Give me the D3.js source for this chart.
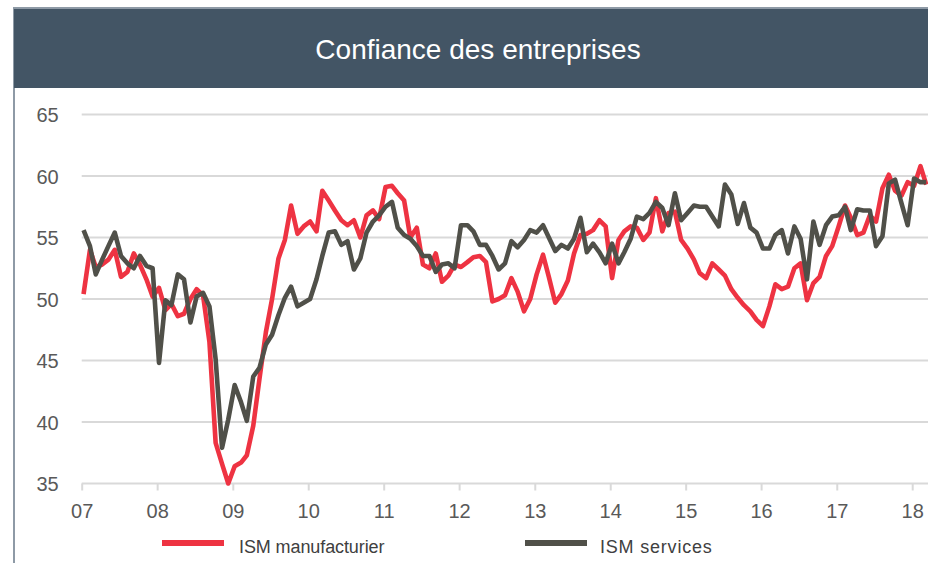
<!DOCTYPE html>
<html>
<head>
<meta charset="utf-8">
<script src="https://cdn.jsdelivr.net/npm/d3@7"></script>
<style>
  body { margin: 0; background: #fff; }
  svg { display: block; font-family: "Liberation Sans", Arial, sans-serif; }
</style>
</head>
<body>
<svg id="chart"></svg>
<script>
// monthly values, Jan 2007 -> Mar 2018
var startYear = 2007;
var yearLabels = ["07", "08", "09", "10", "11", "12", "13", "14", "15", "16", "17", "18"];
var yTicks = [35, 40, 45, 50, 55, 60, 65];

var ismManufacturier = [
  50.4, 54.0, 52.6, 52.8, 53.2, 54.0, 51.8, 52.2, 53.7, 52.8, 51.6, 50.2,
  50.9, 49.1, 49.6, 48.6, 48.8, 50.0, 50.8, 50.3, 46.5, 38.3, 36.6, 35.0,
  36.4, 36.7, 37.3, 39.7, 43.5, 47.3, 50.0, 53.3, 54.8, 57.6, 55.3, 55.9,
  56.3, 55.5, 58.8, 58.0, 57.2, 56.4, 56.0, 56.4, 55.0, 56.8, 57.2, 56.5,
  59.1, 59.2, 58.6, 58.0, 55.0, 55.8, 52.8, 52.5, 53.7, 51.4, 51.9, 52.8,
  52.6, 53.0, 53.4, 53.5, 53.0, 49.8, 50.0, 50.3, 51.7, 50.6, 49.0, 50.0,
  52.0, 53.6, 51.8, 49.7, 50.4, 51.5, 53.7, 55.2, 55.3, 55.6, 56.4, 55.9,
  51.7, 54.8, 55.5, 55.9, 55.8, 54.8, 55.4, 58.2, 55.5, 57.0, 57.1, 54.8,
  54.1, 53.2, 52.1, 51.7, 52.9, 52.4, 51.9, 50.8, 50.1, 49.5, 49.0, 48.3,
  47.8, 49.4, 51.2, 50.8, 51.0, 52.5, 52.9, 49.9, 51.3, 51.8, 53.5, 54.3,
  55.9, 57.6, 56.6, 55.2, 55.4, 56.8, 56.3, 59.0, 60.1, 58.8, 58.4, 59.5,
  59.2, 60.8, 59.3
];

var ismServices = [
  55.6, 54.3, 52.0, 53.2, 54.3, 55.4, 53.5, 52.9, 52.5, 53.5, 52.7, 52.5,
  44.8, 49.9, 49.5, 52.0, 51.6, 48.1, 50.2, 50.5, 49.4, 45.1, 37.9, 40.2,
  43.0, 41.6, 40.1, 43.7, 44.4, 46.3, 47.1, 48.7, 50.1, 51.0, 49.4, 49.7,
  50.0, 51.6, 53.5, 55.4, 55.5, 54.4, 54.7, 52.4, 53.3, 55.4, 56.3, 56.8,
  57.5, 57.9, 55.8, 55.2, 54.9, 54.3, 53.5, 53.5, 52.2, 52.8, 52.9, 52.5,
  56.0, 56.0, 55.5, 54.4, 54.4, 53.5, 52.4, 52.9, 54.7, 54.2, 54.8, 55.6,
  55.4, 56.0, 55.0, 53.9, 54.4, 54.1, 54.9, 56.6, 53.8, 54.5, 53.8, 52.9,
  54.5, 52.9, 53.8, 54.9, 56.7, 56.5, 57.0, 57.9, 57.4, 56.0, 58.6, 56.4,
  57.0, 57.6, 57.5, 57.5, 56.7, 55.9, 59.3, 58.5, 56.1, 57.8, 55.8, 55.4,
  54.1, 54.1, 55.2, 55.6, 53.7, 55.9, 54.9, 51.6, 56.3, 54.4, 56.0, 56.7,
  56.8, 57.5, 55.6, 57.3, 57.2, 57.2, 54.3, 55.1, 59.4, 59.7, 57.8, 56.0,
  59.8, 59.5, 59.5
];

var seriesNames = ["ISM manufacturier", "ISM services"];
var seriesColors = ["#ee3342", "#505049"];

var width = 928, height = 563;
var svg = d3.select("#chart")
    .attr("width", width)
    .attr("height", height);

// frame + header band
svg.append("rect")
    .attr("x", 14).attr("y", 8)
    .attr("width", width).attr("height", height)
    .attr("fill", "#fff")
    .attr("stroke", "#8e9aa6")
    .attr("stroke-width", 2);
svg.append("rect")
    .attr("x", 14).attr("y", 9)
    .attr("width", width - 14).attr("height", 79)
    .attr("fill", "#435565");
svg.append("text")
    .attr("x", 478).attr("y", 59)
    .attr("text-anchor", "middle")
    .attr("fill", "#fff")
    .attr("font-size", 28)
    .text("Confiance des entreprises");

function monthDate(i) {
  return new Date(startYear + Math.floor(i / 12), i % 12, 10);
}

var x = d3.scaleTime()
    .domain([new Date(2007, 0, 1), new Date(2018, 0, 1)])
    .range([81.7, 912.2]);
var y = d3.scaleLinear()
    .domain([35, 65])
    .range([483.5, 114.5]);

// gridlines
svg.append("g")
    .selectAll("line")
    .data(yTicks.slice(1))
    .enter()
    .append("line")
    .attr("x1", 81.7).attr("x2", width)
    .attr("y1", function(d) { return y(d); })
    .attr("y2", function(d) { return y(d); })
    .attr("stroke", "#d9d9d9")
    .attr("stroke-width", 2);

// y axis labels
var yAxis = svg.append("g")
    .attr("transform", "translate(81.7,0)")
    .call(d3.axisLeft(y).tickValues(yTicks).tickSize(0).tickPadding(23));
yAxis.select(".domain").remove();
yAxis.selectAll("text")
    .attr("font-size", 20)
    .attr("font-family", "Liberation Sans, Arial, sans-serif")
    .attr("fill", "#595959")
    .attr("dy", "0.36em");

// x axis
var yearTicks = yearLabels.map(function(d, i) { return new Date(startYear + i, 0, 1); });
var xAxis = svg.append("g")
    .attr("transform", "translate(0," + y(35) + ")")
    .call(d3.axisBottom(x)
      .tickValues(yearTicks)
      .tickSize(7)
      .tickPadding(13)
      .tickFormat(function(d, i) { return yearLabels[i]; }));
xAxis.select(".domain")
    .attr("d", "M81.7,0H" + width)
    .attr("stroke", "#d9d9d9")
    .attr("stroke-width", 2);
xAxis.selectAll(".tick line")
    .attr("stroke", "#d9d9d9")
    .attr("stroke-width", 2);
xAxis.selectAll("text")
    .attr("font-size", 20)
    .attr("font-family", "Liberation Sans, Arial, sans-serif")
    .attr("fill", "#595959");

// lines
var line = d3.line()
    .x(function(d, i) { return x(monthDate(i)); })
    .y(function(d) { return y(d); });

[ismManufacturier, ismServices].forEach(function(values, k) {
  svg.append("path")
      .datum(values)
      .attr("d", line)
      .attr("fill", "none")
      .attr("stroke", seriesColors[k])
      .attr("stroke-width", 4.6)
      .attr("stroke-linejoin", "round")
      .attr("stroke-linecap", "butt");
});

// legend
var legendX = [162, 525];
var legendSpacing = ["-0.1", "0.8"];
var legend = svg.append("g")
    .selectAll("g")
    .data(seriesNames)
    .enter()
    .append("g")
    .attr("transform", function(d, i) { return "translate(" + legendX[i] + ",543)"; });
legend.append("line")
    .attr("x1", 0).attr("x2", 62)
    .attr("stroke", function(d, i) { return seriesColors[i]; })
    .attr("stroke-width", 6);
legend.append("text")
    .attr("x", function(d, i) { return i === 0 ? 77 : 75; })
    .attr("y", 10)
    .attr("font-size", 18)
    .attr("letter-spacing", function(d, i) { return legendSpacing[i]; })
    .attr("fill", "#404040")
    .text(function(d) { return d; });
</script>
</body>
</html>
